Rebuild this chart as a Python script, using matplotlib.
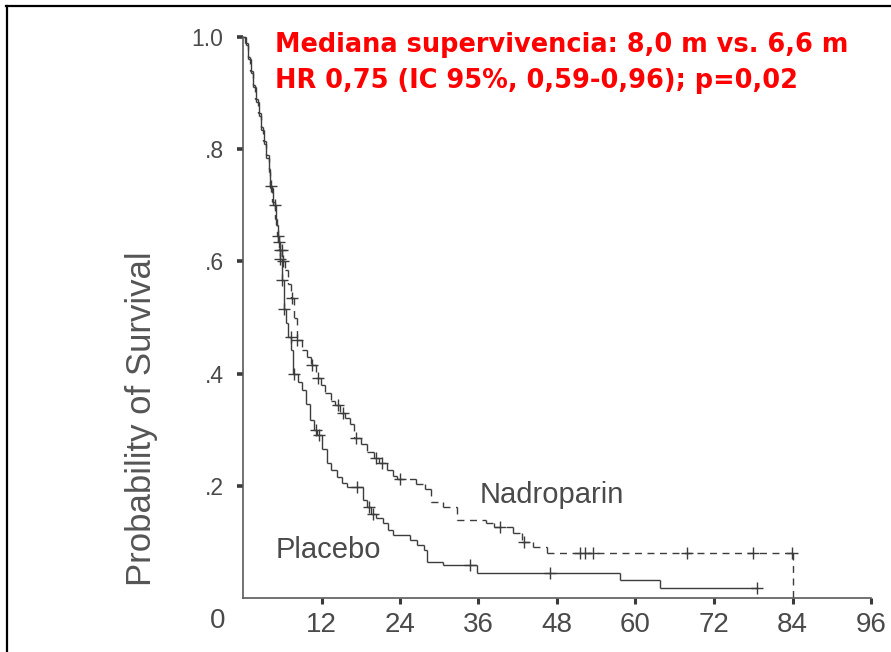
import numpy as np
import matplotlib
matplotlib.use("Agg")
import matplotlib.pyplot as plt
from matplotlib.collections import LineCollection
from matplotlib.lines import Line2D
from matplotlib import font_manager

# ---- Kaplan-Meier data (months, survival probability after each event) ----
nadro_times = [0.3, 0.7, 1.1, 1.5, 1.9, 2.3, 2.7, 3.1, 3.5, 3.9, 4.2, 4.5, 4.9,
               5.2, 5.5, 6.0, 6.4, 6.9, 7.3, 7.8, 8.2, 9.0, 9.8, 10.4, 11.2,
               11.9, 12.6, 13.4, 14.1, 14.9, 15.6, 16.3, 16.9, 18.0, 19.0,
               20.0, 20.8, 22.0, 22.9, 23.6, 26.5, 27.8, 28.8, 30.6, 32.7,
               37.2, 38.3, 41.3, 42.6, 44.4, 46.4, 84.0]
nadro_surv = [0.99, 0.965, 0.94, 0.915, 0.89, 0.865, 0.84, 0.815, 0.79, 0.765,
              0.735, 0.705, 0.675, 0.645, 0.62, 0.60, 0.585, 0.56, 0.535, 0.50,
              0.46, 0.442, 0.43, 0.415, 0.392, 0.38, 0.365, 0.352, 0.344,
              0.33, 0.32, 0.311, 0.285, 0.275, 0.261, 0.25, 0.24, 0.228,
              0.218, 0.213, 0.204, 0.195, 0.172, 0.163, 0.139, 0.133, 0.127,
              0.115, 0.100, 0.091, 0.080, 0.0]
nadro_censored = [4.3, 5.4, 5.7, 5.9, 6.1, 7.5, 8.3, 10.6, 11.5, 14.5, 15.3,
                  17.2, 20.3, 21.2, 24.0, 39.3, 42.9, 51.5, 52.3, 53.5, 67.8,
                  78.0, 83.9]

placebo_times = [0.4, 0.8, 1.2, 1.6, 2.0, 2.4, 2.8, 3.2, 3.5, 3.9, 4.2, 4.6,
                 5.0, 5.3, 5.65, 5.9, 6.2, 6.6, 6.9, 7.4, 7.7, 8.4, 9.0, 9.6,
                 10.2, 10.8, 11.3, 12.0, 12.8, 13.5, 14.3, 15.1, 15.9, 18.3,
                 18.9, 19.6, 20.4, 21.4, 22.2, 23.0, 25.5, 26.6, 27.6, 28.1,
                 30.6, 35.8, 57.6, 63.7]
placebo_surv = [0.985, 0.96, 0.935, 0.91, 0.885, 0.86, 0.835, 0.81, 0.785,
                0.76, 0.73, 0.70, 0.665, 0.635, 0.605, 0.567, 0.515, 0.49,
                0.466, 0.442, 0.40, 0.385, 0.371, 0.345, 0.317, 0.30, 0.29,
                0.265, 0.24, 0.228, 0.216, 0.205, 0.198, 0.175, 0.163, 0.15,
                0.143, 0.133, 0.122, 0.112, 0.103, 0.095, 0.086, 0.065, 0.059,
                0.044, 0.032, 0.017]
placebo_censored = [4.9, 5.5, 5.7, 5.95, 6.3, 7.3, 7.8, 11.2, 11.6, 17.4,
                    19.3, 19.8, 34.7, 46.9, 78.5]
placebo_end = 78.5

x_ticks = [12, 24, 36, 48, 60, 72, 84, 96]
y_ticks = [0.2, 0.4, 0.6, 0.8, 1.0]
y_tick_labels = [".2", ".4", ".6", ".8", "1.0"]

title_lines = ["Mediana supervivencia: 8,0 m vs. 6,6 m",
               "HR 0,75 (IC 95%, 0,59-0,96); p=0,02"]

INK = "#3c3c3c"
TEXT = "#4a4a4a"

available = {f.name for f in font_manager.fontManager.ttflist}
narrow = "Liberation Sans Narrow" if "Liberation Sans Narrow" in available else "Liberation Sans"


def step_segments(times, surv, t_end=None):
    """Horizontal and vertical pieces of a KM step curve starting at (0, 1)."""
    segs = []
    t_prev, s_prev = 0.0, 1.0
    for t, s in zip(times, surv):
        segs.append([(t_prev, s_prev), (t, s_prev)])
        segs.append([(t, s_prev), (t, s)])
        t_prev, s_prev = t, s
    if t_end is not None and t_end > t_prev:
        segs.append([(t_prev, s_prev), (t_end, s_prev)])
    return segs


def surv_at(times, surv, t):
    s = 1.0
    for ti, si in zip(times, surv):
        if ti <= t:
            s = si
        else:
            break
    return s


fig = plt.figure(figsize=(8.91, 6.52), dpi=100)
ax = fig.add_axes([243 / 891, 1 - 598 / 652, (871 - 243) / 891, (598 - 37) / 652])
ax.set_xlim(0, 96)
ax.set_ylim(0, 1.0)

# Placebo: solid step curve
ax.add_collection(LineCollection(step_segments(placebo_times, placebo_surv, placebo_end),
                                 colors=INK, linewidths=1.0, clip_on=False,
                                 capstyle="butt"))
# Nadroparin: dashed step curve, each piece dashed on its own
ax.add_collection(LineCollection(step_segments(nadro_times, nadro_surv),
                                 colors=INK, linewidths=1.0, linestyles=[(0, (5, 4))],
                                 clip_on=False, capstyle="butt"))

# censoring marks
for cens, times, surv in ((placebo_censored, placebo_times, placebo_surv),
                          (nadro_censored, nadro_times, nadro_surv)):
    ys = [surv_at(times, surv, t) for t in cens]
    ax.plot(cens, ys, linestyle="none", marker="+", markersize=8,
            markeredgewidth=1.0, color=INK, clip_on=False)

# axes styling
for side in ("top", "right"):
    ax.spines[side].set_visible(False)
for side in ("left", "bottom"):
    ax.spines[side].set_color("#5a5a5a")
    ax.spines[side].set_linewidth(1.2)

ax.set_xticks(x_ticks)
ax.set_xticklabels([str(v) for v in x_ticks])
ax.set_yticks(y_ticks)
ax.set_yticklabels(y_tick_labels)
ax.tick_params(axis="x", direction="out", length=4, width=2.2, color="#3a3a3a",
               pad=6, labelsize=20, labelcolor=TEXT)
ax.tick_params(axis="y", direction="out", length=4, width=2.6, color="#3a3a3a",
               pad=10, labelsize=16.5, labelcolor=TEXT)
for lab in ax.get_xticklabels():
    lab.set_fontfamily(narrow)
for lab in ax.get_yticklabels():
    lab.set_fontfamily("Liberation Sans")

ax.annotate("0", xy=(0, 0), xycoords="data", xytext=(-25, -10),
            textcoords="offset pixels", ha="center", va="top",
            fontsize=20, family=narrow, color=TEXT)

ax.set_ylabel("Probability of Survival", fontsize=25, family="Liberation Sans",
              color="#555555")
ax.yaxis.set_label_coords(-85 / 628, 0.32)

ax.text(5.0, 0.086, "Placebo", fontsize=21, family="Liberation Sans",
        color=TEXT, ha="left", va="center")
ax.text(36.2, 0.184, "Nadroparin", fontsize=21, family="Liberation Sans",
        color=TEXT, ha="left", va="center")

# red summary lines, sized so the first spans the target width
renderer = fig.canvas.get_renderer()
probe = fig.text(0, 0, title_lines[0], fontsize=18, weight="bold", family="DejaVu Sans")
w = probe.get_window_extent(renderer).width
probe.remove()
fs = 18 * 573 / w
fig.text(275 / 891, 1 - 52 / 652, title_lines[0], fontsize=fs, weight="bold",
         family="DejaVu Sans", color="#ff0000", ha="left", va="baseline")
fig.text(275 / 891, 1 - 88 / 652, title_lines[1], fontsize=fs, weight="bold",
         family="DejaVu Sans", color="#ff0000", ha="left", va="baseline")

# outer frame (left and top edges)
fig.add_artist(Line2D([6.5 / 891, 6.5 / 891], [0, 1 - 5.5 / 652], transform=fig.transFigure,
                      color="black", linewidth=1.6))
fig.add_artist(Line2D([5.5 / 891, 1], [1 - 6 / 652, 1 - 6 / 652], transform=fig.transFigure,
                      color="black", linewidth=1.6))

fig.savefig("out.png", dpi=100, facecolor="white")
